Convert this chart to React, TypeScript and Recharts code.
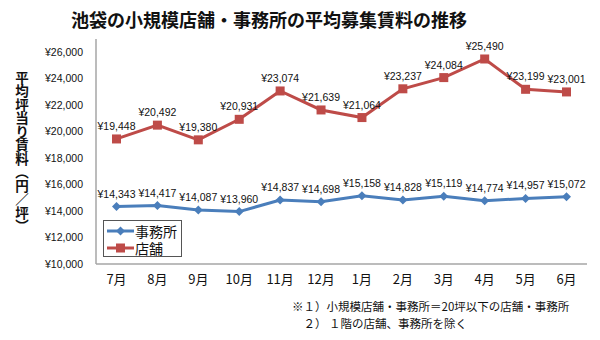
import React from 'react';
import { LineChart, Line, XAxis, YAxis, LabelList } from 'recharts';

const months = ['7月', '8月', '9月', '10月', '11月', '12月', '1月', '2月', '3月', '4月', '5月', '6月'];
const officeRent = [14343, 14417, 14087, 13960, 14837, 14698, 15158, 14828, 15119, 14774, 14957, 15072];
const storeRent = [19448, 20492, 19380, 20931, 23074, 21639, 21064, 23237, 24084, 25490, 23199, 23001];
const yTicks = [10000, 12000, 14000, 16000, 18000, 20000, 22000, 24000, 26000];

const data = months.map((m, i) => ({ month: m, office: officeRent[i], store: storeRent[i] }));

const BLUE = '#4A7EBB';
const RED = '#BE4B48';
const NUM_FONT = "'Liberation Sans', 'Noto Sans CJK JP', sans-serif";
const JP_FONT = "'Noto Sans CJK JP', sans-serif";

const yen = (v: number) => '¥' + v.toLocaleString('en-US');

const Diamond = (props: any) => {
  const { cx, cy } = props;
  if (cx == null || cy == null) return null;
  const r = 4.5;
  return <path d={`M${cx},${cy - r}L${cx + r},${cy}L${cx},${cy + r}L${cx - r},${cy}Z`} fill={BLUE} />;
};

const Square = (props: any) => {
  const { cx, cy } = props;
  if (cx == null || cy == null) return null;
  const s = 4.5;
  return <rect x={cx - s} y={cy - s} width={2 * s} height={2 * s} fill={RED} />;
};

const legendText: React.CSSProperties = {
  marginLeft: 1,
  display: 'inline-block',
  lineHeight: '14px',
  height: 14,
};

const LegendBox = () => (
  <div
    style={{
      position: 'absolute',
      left: 103,
      top: 220,
      width: 79,
      height: 37,
      border: '1px solid #555',
      background: '#fff',
      boxSizing: 'border-box',
      fontFamily: JP_FONT,
      fontSize: 14,
      color: '#111',
      padding: '1px 0 0 3px',
    }}
  >
    <div style={{ display: 'flex', alignItems: 'center', height: 17 }}>
      <svg width={27} height={12}>
        <line x1={0} y1={6} x2={27} y2={6} stroke={BLUE} strokeWidth={3} />
        <path d="M13.5,1.5L18,6L13.5,10.5L9,6Z" fill={BLUE} />
      </svg>
      <span style={legendText}>事務所</span>
    </div>
    <div style={{ display: 'flex', alignItems: 'center', height: 17 }}>
      <svg width={27} height={12}>
        <line x1={0} y1={6} x2={27} y2={6} stroke={RED} strokeWidth={3} />
        <rect x={9} y={1.5} width={9} height={9} fill={RED} />
      </svg>
      <span style={legendText}>店舗</span>
    </div>
  </div>
);

export default function App() {
  return (
    <div style={{ position: 'absolute', left: 0, top: 0, width: 600, height: 340, background: '#fff' }}>
      <div
        style={{
          position: 'absolute',
          left: 0,
          width: 538,
          top: 6,
          textAlign: 'center',
          fontFamily: JP_FONT,
          fontWeight: 'bold',
          fontSize: 18,
          color: '#111',
          lineHeight: '26px',
        }}
      >
        池袋の小規模店舗・事務所の平均募集賃料の推移
      </div>
      <div
        style={{
          position: 'absolute',
          left: 13,
          top: 70,
          height: 164,
          writingMode: 'vertical-rl',
          fontFamily: JP_FONT,
          fontWeight: 'bold',
          fontSize: 13.5,
          color: '#111',
          lineHeight: '18px',
          textAlign: 'center',
        }}
      >
        平均坪当り賃料（円／坪）
      </div>
      <LineChart
        width={600}
        height={340}
        data={data}
        margin={{ top: 39, right: 13, bottom: 46, left: 0 }}
        style={{ position: 'absolute', left: 0, top: 0 }}
      >
        <XAxis
          dataKey="month"
          height={30}
          tickLine={false}
          tickSize={0}
          tickMargin={11}
          padding={{ left: 20.5, right: 20.5 }}
          axisLine={{ stroke: '#A6A6A6', strokeWidth: 1.5 }}
          tick={{ fill: '#111', fontSize: 13, fontFamily: JP_FONT }}
          interval={0}
        />
        <YAxis
          width={96}
          domain={[10000, 27000]}
          ticks={yTicks}
          tickFormatter={yen}
          tickLine={false}
          tickSize={0}
          tickMargin={13}
          axisLine={{ stroke: '#A6A6A6', strokeWidth: 1.5 }}
          tick={{ fill: '#111', fontSize: 10.5, fontFamily: NUM_FONT }}
          allowDataOverflow
        />
        <Line
          dataKey="office"
          stroke={BLUE}
          strokeWidth={3}
          dot={<Diamond />}
          activeDot={false}
          isAnimationActive={false}
        >
          <LabelList
            dataKey="office"
            position="top"
            offset={9}
            formatter={(v: any) => yen(Number(v))}
            style={{ fill: '#111', fontSize: 10.5, fontFamily: NUM_FONT }}
          />
        </Line>
        <Line
          dataKey="store"
          stroke={RED}
          strokeWidth={3}
          dot={<Square />}
          activeDot={false}
          isAnimationActive={false}
        >
          <LabelList
            dataKey="store"
            position="top"
            offset={9}
            formatter={(v: any) => yen(Number(v))}
            style={{ fill: '#111', fontSize: 10.5, fontFamily: NUM_FONT }}
          />
        </Line>
      </LineChart>
      <LegendBox />
      <div
        style={{
          position: 'absolute',
          left: 292,
          top: 298,
          fontFamily: JP_FONT,
          fontSize: 11.5,
          color: '#111',
          lineHeight: '17px',
          whiteSpace: 'pre',
        }}
      >
        {'※１）小規模店舗・事務所＝20坪以下の店舗・事務所\n　２） １階の店舗、事務所を除く'}
      </div>
    </div>
  );
}
